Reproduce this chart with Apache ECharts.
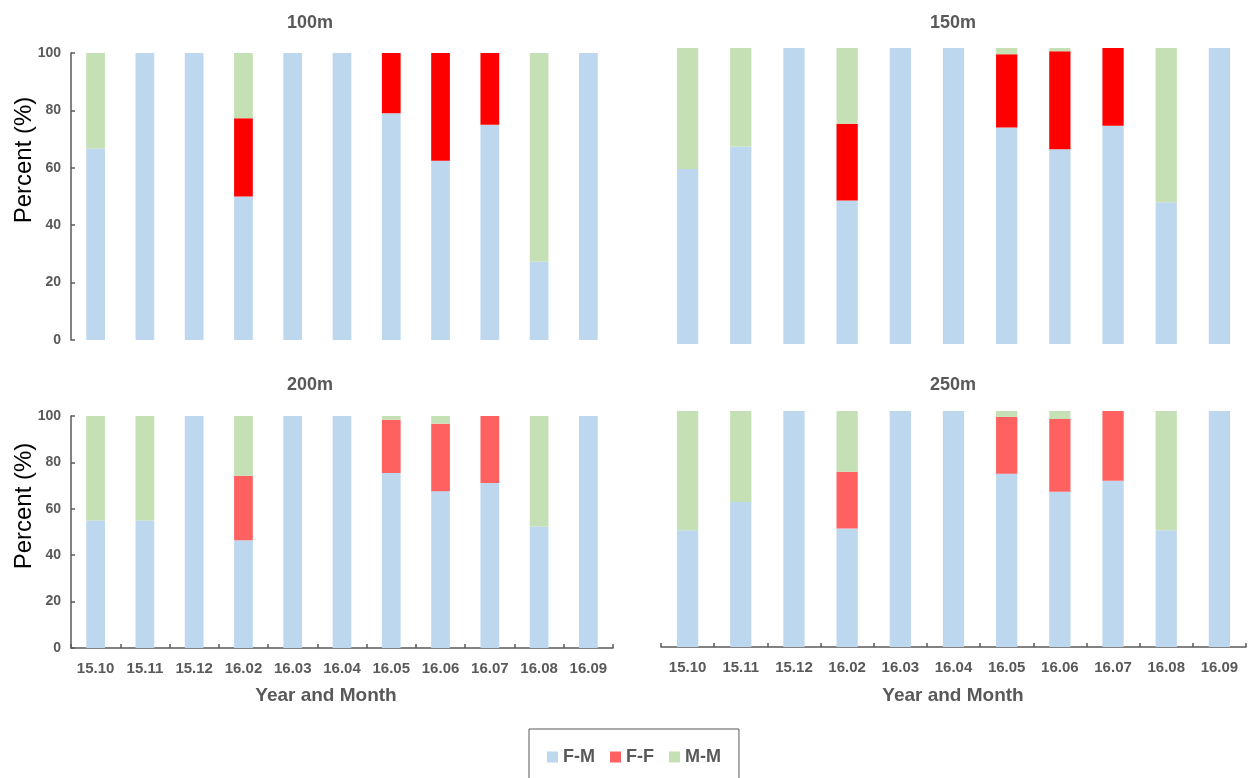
<!DOCTYPE html>
<html>
<head>
<meta charset="utf-8">
<script src="https://cdn.jsdelivr.net/npm/echarts@6/dist/echarts.min.js"></script>
<style>
  html, body { margin: 0; padding: 0; background: #ffffff; }
  #chart { width: 1255px; height: 778px; }
</style>
</head>
<body>
<div id="chart"></div>
<script>
// Survey months and the y-axis scale
const months = ['15.10', '15.11', '15.12', '16.02', '16.03', '16.04', '16.05', '16.06', '16.07', '16.08', '16.09'];
const percentTicks = [0, 20, 40, 60, 80, 100];
const distances = ['100m', '150m', '200m', '250m'];
const pairTypes = ['F-M', 'F-F', 'M-M'];

// Share (%) of each pair type per month, one set per distance
const fm100 = [66.7, 100, 100, 50.0, 100, 100, 79.0, 62.5, 75.0, 27.3, 100];
const ff100 = [0, 0, 0, 27.3, 0, 0, 21.0, 37.5, 25.0, 0, 0];
const mm100 = [33.3, 0, 0, 22.7, 0, 0, 0, 0, 0, 72.7, 0];

const fm150 = [59.1, 66.7, 100, 48.5, 100, 100, 73.1, 65.8, 73.7, 47.9, 100];
const ff150 = [0, 0, 0, 25.9, 0, 0, 24.8, 33.1, 26.3, 0, 0];
const mm150 = [40.9, 33.3, 0, 25.6, 0, 0, 2.1, 1.1, 0, 52.1, 0];

const fm200 = [55.0, 55.0, 100, 46.4, 100, 100, 75.4, 67.6, 71.1, 52.4, 100];
const ff200 = [0, 0, 0, 27.8, 0, 0, 23.0, 29.1, 28.9, 0, 0];
const mm200 = [45.0, 45.0, 0, 25.8, 0, 0, 1.6, 3.3, 0, 47.6, 0];

const fm250 = [49.5, 61.4, 100, 50.2, 100, 100, 73.4, 65.8, 70.4, 49.5, 100];
const ff250 = [0, 0, 0, 24.1, 0, 0, 24.1, 30.8, 29.6, 0, 0];
const mm250 = [50.5, 38.6, 0, 25.7, 0, 0, 2.5, 3.4, 0, 50.5, 0];

const panelData = [
  [fm100, ff100, mm100],
  [fm150, ff150, mm150],
  [fm200, ff200, mm200],
  [fm250, ff250, mm250]
];

const FONT = '"Liberation Sans", Arial, sans-serif';
const GREY = '#595959';
const BLUE = '#BDD7EE';
const GREEN = '#C5E0B4';
const RED_TOP = '#FF0000';
const RED_BOTTOM = '#FF6161';

// Panel layout: [100m, 150m, 200m, 250m]
const panels = [
  { grid: { left: 71,  top: 53,  width: 542, height: 287 }, yAxis: true,  xLine: false, xLabels: false, barWidth: '38%', red: RED_TOP },
  { grid: { left: 661, top: 48,  width: 585, height: 296 }, yAxis: false, xLine: false, xLabels: false, barWidth: '40%', red: RED_TOP },
  { grid: { left: 71,  top: 416, width: 542, height: 232 }, yAxis: true,  xLine: true,  xLabels: true,  barWidth: '38%', red: RED_BOTTOM },
  { grid: { left: 661, top: 411, width: 585, height: 236 }, yAxis: false, xLine: true,  xLabels: true,  barWidth: '40%', red: RED_BOTTOM }
];

const grids = panels.map(p => Object.assign({ containLabel: false }, p.grid));

const xAxes = panels.map((p, i) => ({
  type: 'category',
  gridIndex: i,
  data: months,
  boundaryGap: true,
  axisLine: { show: p.xLine, lineStyle: { color: GREY, width: 1.5 } },
  axisTick: { show: p.xLine, inside: true, length: 4, lineStyle: { color: GREY, width: 1.5 } },
  axisLabel: {
    show: p.xLabels, margin: 13, color: GREY,
    fontFamily: FONT, fontWeight: 'bold', fontSize: 15
  },
  splitLine: { show: false }
}));

const yAxes = panels.map((p, i) => ({
  type: 'value',
  gridIndex: i,
  min: percentTicks[0],
  max: percentTicks[percentTicks.length - 1],
  interval: percentTicks[1] - percentTicks[0],
  show: p.yAxis,
  axisLine: { show: true, lineStyle: { color: GREY, width: 1.5 } },
  axisTick: { show: true, inside: true, length: 4, lineStyle: { color: GREY, width: 1.5 } },
  axisLabel: {
    margin: 10, color: GREY,
    fontFamily: FONT, fontWeight: 'bold', fontSize: 14
  },
  splitLine: { show: false }
}));

const series = [];
panels.forEach((p, i) => {
  const colors = [BLUE, p.red, GREEN];
  pairTypes.forEach((name, k) => {
    series.push({
      type: 'bar',
      name: name,
      xAxisIndex: i,
      yAxisIndex: i,
      stack: 'panel' + i,
      barWidth: p.barWidth,
      data: panelData[i][k],
      itemStyle: { color: colors[k] },
      emphasis: { disabled: true },
      animation: false
    });
  });
});

// Panel titles and axis titles
function label(text, x, y, size, bold, color, rotation) {
  return {
    type: 'text',
    x: x, y: y,
    rotation: rotation || 0,
    style: {
      text: text,
      fill: color,
      font: (bold ? 'bold ' : '') + size + 'px ' + FONT,
      textAlign: 'center',
      textVerticalAlign: 'middle'
    },
    silent: true
  };
}

const graphics = [
  label(distances[0], 310, 23, 18, true, GREY),
  label(distances[1], 953, 23, 18, true, GREY),
  label(distances[2], 310, 385, 18, true, GREY),
  label(distances[3], 953, 385, 18, true, GREY),
  label('Percent (%)', 24, 160, 24, false, '#000000', Math.PI / 2),
  label('Percent (%)', 24, 506, 24, false, '#000000', Math.PI / 2),
  label('Year and Month', 326, 696, 19, true, GREY),
  label('Year and Month', 953, 696, 19, true, GREY)
];

const chart = echarts.init(document.getElementById('chart'), null, { renderer: 'canvas' });
chart.setOption({
  backgroundColor: '#ffffff',
  animation: false,
  grid: grids,
  xAxis: xAxes,
  yAxis: yAxes,
  series: series,
  legend: {
    left: 529,
    top: 729,
    orient: 'horizontal',
    itemWidth: 11,
    itemHeight: 11,
    itemGap: 15,
    padding: [19, 18, 30, 18],
    borderColor: GREY,
    borderWidth: 1,
    selectedMode: false,
    textStyle: { color: GREY, fontFamily: FONT, fontWeight: 'bold', fontSize: 18 },
    data: [
      { name: 'F-M', icon: 'rect', itemStyle: { color: BLUE } },
      { name: 'F-F', icon: 'rect', itemStyle: { color: RED_BOTTOM } },
      { name: 'M-M', icon: 'rect', itemStyle: { color: GREEN } }
    ]
  },
  graphic: graphics
});
</script>
</body>
</html>
